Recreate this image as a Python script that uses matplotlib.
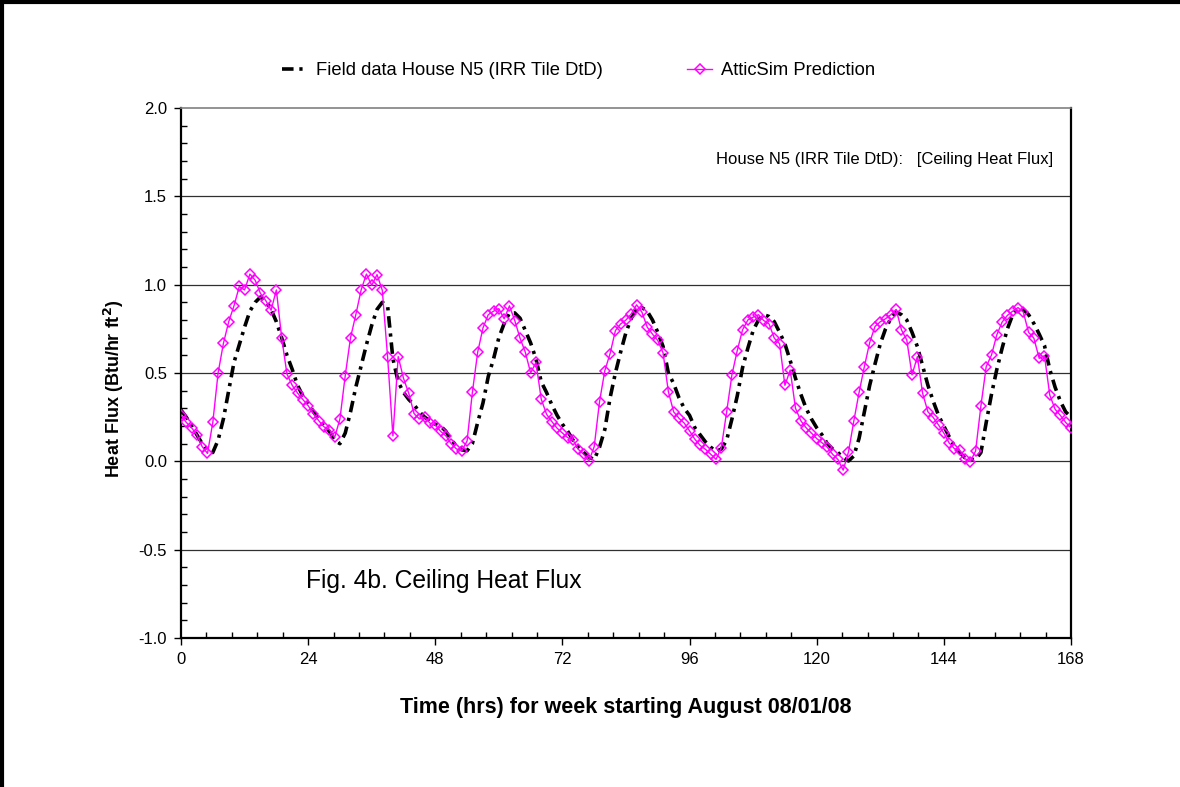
import matplotlib
matplotlib.use("Agg")
import matplotlib.pyplot as plt
import numpy as np
from matplotlib.lines import Line2D
from matplotlib.ticker import MultipleLocator, FormatStrFormatter

plt.rcParams["font.family"] = ["Liberation Sans", "DejaVu Sans"]

#####################################################
# DATA (hourly values)
#####################################################

hours = np.arange(0, 169)

field_flux = [
    0.29, 0.25, 0.20, 0.15, 0.10, 0.06, 0.05, 0.12, 0.24, 0.40,
    0.56, 0.66, 0.76, 0.85, 0.90, 0.93, 0.91, 0.86, 0.79, 0.70,
    0.60, 0.52, 0.43, 0.37, 0.33, 0.28, 0.24, 0.20, 0.17, 0.12,
    0.10, 0.16, 0.28, 0.42, 0.54, 0.66, 0.77, 0.86, 0.90, 0.88,
    0.58, 0.45, 0.39, 0.35, 0.32, 0.28, 0.25, 0.23, 0.21, 0.20,
    0.17, 0.12, 0.09, 0.065, 0.06, 0.10, 0.22, 0.33, 0.48, 0.58,
    0.70, 0.78, 0.84, 0.84, 0.81, 0.74, 0.67, 0.58, 0.45, 0.39,
    0.32, 0.26, 0.21, 0.17, 0.12, 0.08, 0.05, 0.025, 0.01, 0.08,
    0.18, 0.36, 0.50, 0.62, 0.73, 0.81, 0.86, 0.87, 0.85, 0.80,
    0.73, 0.65, 0.50, 0.44, 0.36, 0.30, 0.26, 0.19, 0.15, 0.11,
    0.08, 0.055, 0.07, 0.12, 0.24, 0.37, 0.53, 0.64, 0.74, 0.80,
    0.83, 0.82, 0.79, 0.73, 0.665, 0.57, 0.47, 0.38, 0.30, 0.24,
    0.19, 0.15, 0.10, 0.07, 0.05, 0.02, 0.002, 0.03, 0.13, 0.28,
    0.43, 0.55, 0.665, 0.75, 0.81, 0.845, 0.83, 0.80, 0.73, 0.65,
    0.54, 0.43, 0.34, 0.26, 0.20, 0.14, 0.085, 0.05, 0.02, 0.011,
    0.01, 0.05, 0.22, 0.38, 0.52, 0.64, 0.75, 0.83, 0.865, 0.86,
    0.83, 0.78, 0.72, 0.655, 0.52, 0.42, 0.34, 0.28, 0.25,
]

atticsim_flux = [
    0.263, 0.22, 0.19, 0.15, 0.083, 0.045, 0.22, 0.50, 0.667, 0.79,
    0.88, 0.99, 0.97, 1.06, 1.025, 0.95, 0.91, 0.855, 0.97, 0.70,
    0.494, 0.43, 0.386, 0.35, 0.315, 0.27, 0.23, 0.195, 0.18, 0.135,
    0.24, 0.485, 0.70, 0.83, 0.97, 1.06, 0.996, 1.057, 0.968, 0.59,
    0.144, 0.593, 0.47, 0.384, 0.27, 0.24, 0.25, 0.216, 0.206, 0.17,
    0.144, 0.10, 0.07, 0.06, 0.115, 0.39, 0.617, 0.755, 0.83, 0.85,
    0.864, 0.807, 0.88, 0.797, 0.697, 0.617, 0.50, 0.56, 0.352, 0.267,
    0.225, 0.1875, 0.16, 0.134, 0.12, 0.068, 0.04, 0.002, 0.083, 0.337,
    0.513, 0.61, 0.74, 0.778, 0.80, 0.835, 0.886, 0.845, 0.76, 0.72,
    0.684, 0.614, 0.394, 0.28, 0.244, 0.216, 0.172, 0.125, 0.09, 0.068,
    0.04, 0.011, 0.078, 0.28, 0.49, 0.627, 0.744, 0.80, 0.816, 0.83,
    0.797, 0.778, 0.697, 0.665, 0.43, 0.517, 0.30, 0.23, 0.19, 0.16,
    0.129, 0.105, 0.08, 0.04, 0.011, -0.05, 0.053, 0.227, 0.39, 0.536,
    0.672, 0.763, 0.79, 0.807, 0.83, 0.86, 0.744, 0.6875, 0.489, 0.593,
    0.384, 0.28, 0.248, 0.206, 0.16, 0.104, 0.072, 0.0625, 0.015, -0.002,
    0.059, 0.314, 0.536, 0.602, 0.716, 0.788, 0.826, 0.85, 0.87, 0.845,
    0.73, 0.697, 0.583, 0.598, 0.375, 0.295, 0.26, 0.22, 0.19,
]

x_ticks = [0, 24, 48, 72, 96, 120, 144, 168]
y_ticks = [-1.0, -0.5, 0.0, 0.5, 1.0, 1.5, 2.0]

#####################################################
# PLOT
#####################################################

fig = plt.figure(figsize=(11.8, 7.87), dpi=100)
ax = fig.add_axes([0.1534, 0.1893, 0.7542, 0.6735])

# horizontal gridlines
for yv in y_ticks[1:-1]:
    ax.axhline(yv, color="#303030", lw=0.9, zorder=1)

ax.plot(hours, field_flux, color="black", lw=2.6,
        linestyle=(0, (3.2, 1.6, 0.9, 1.6)),
        label="Field data House N5 (IRR Tile DtD)", zorder=2)
ax.plot(hours, atticsim_flux, color="#ff00ff", lw=1.0, marker="D",
        markersize=4.6, mfc="none", mec="#ff00ff", mew=1.1,
        label="AtticSim Prediction", zorder=3)

ax.set_xlim(0, 168)
ax.set_ylim(-1.0, 2.0)
ax.set_xticks(x_ticks)
ax.set_yticks(y_ticks)
ax.xaxis.set_minor_locator(MultipleLocator(4.8))
ax.yaxis.set_minor_locator(MultipleLocator(0.1))
ax.yaxis.set_major_formatter(FormatStrFormatter("%.1f"))
ax.tick_params(which="major", direction="out", length=5, width=1, labelsize=12, pad=5)
ax.tick_params(which="minor", direction="in", length=4, width=1)

ax.spines["left"].set_linewidth(1.6)
ax.spines["bottom"].set_linewidth(1.6)
ax.spines["right"].set_linewidth(1.6)
ax.spines["top"].set_color("#808080")
ax.spines["top"].set_linewidth(1.2)

ax.set_xlabel("Time (hrs) for week starting August 08/01/08",
              fontsize=15.5, fontweight="bold", labelpad=22)
ax.set_ylabel("Heat Flux (Btu/hr ft$^\\mathbf{2}$)", fontsize=13,
              fontweight="bold")
ax.yaxis.set_label_coords(-0.062, 0.47)

ax.text(0.98, 0.902, "House N5 (IRR Tile DtD):   [Ceiling Heat Flux]",
        transform=ax.transAxes, ha="right", va="center", fontsize=12)
ax.text(0.14, 0.108, "Fig. 4b. Ceiling Heat Flux",
        transform=ax.transAxes, ha="left", va="center", fontsize=17.7)

fig.legend(loc="center", bbox_to_anchor=(0.49, 0.91), ncol=2, frameon=False,
           fontsize=13.2, handlelength=1.4, handletextpad=0.45,
           columnspacing=4.6)

# figure frame (top and left edges)
fig.add_artist(Line2D([0, 1], [0.998, 0.998], color="black", lw=3,
                      transform=fig.transFigure))
fig.add_artist(Line2D([0.0015, 0.0015], [0, 1], color="black", lw=3,
                      transform=fig.transFigure))

fig.savefig("out.png", dpi=100)
plt.close()
